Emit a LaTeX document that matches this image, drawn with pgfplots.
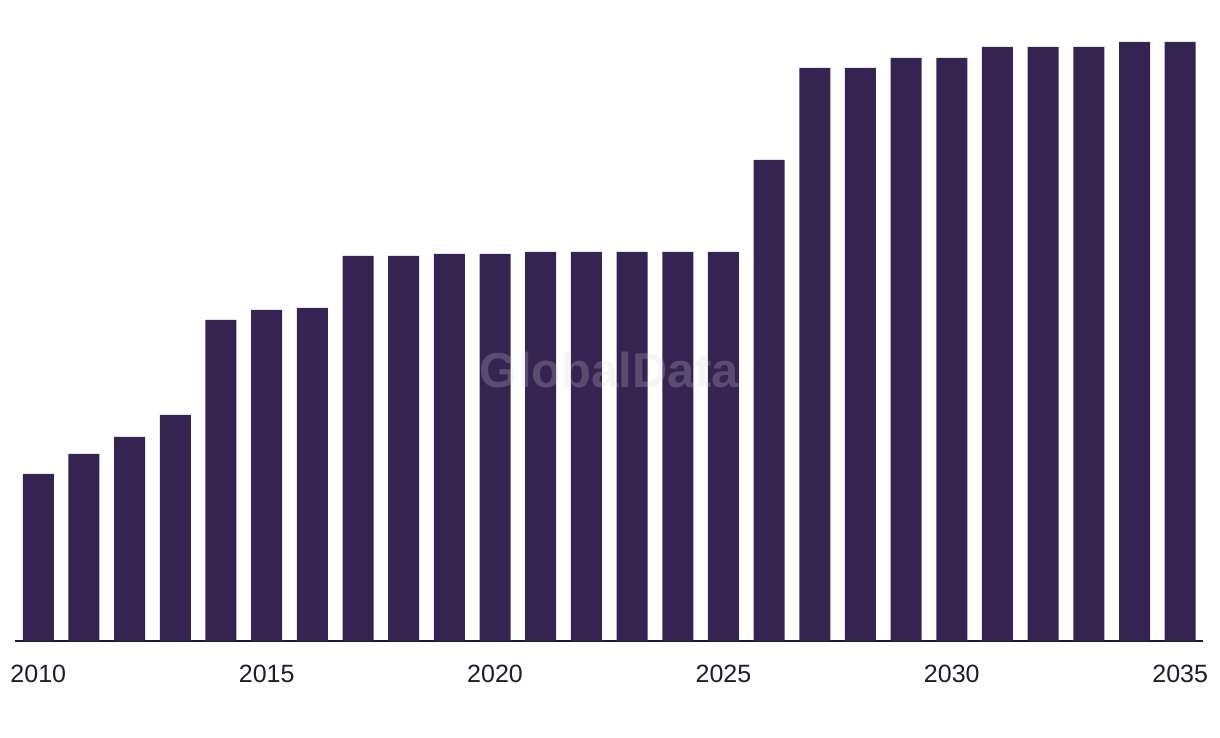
\documentclass[border=0pt]{standalone}
\usepackage{pgfplots}
\pgfplotsset{compat=1.18}
\usepackage{fontspec}
\setmainfont{Liberation Sans}
\definecolor{barc}{HTML}{352452}
\definecolor{txtc}{HTML}{1E1B2E}
\definecolor{wmc}{HTML}{D4D4D4}
\begin{document}
\begin{tikzpicture}
\path[use as bounding box] (-7.5pt,-48.5pt) rectangle (602.5pt,320.5pt);
\begin{axis}[
  at={(0,0)}, anchor=south west,
  scale only axis, width=594pt, height=320.5pt,
  xmin=2009.49, xmax=2035.5, ymin=0, ymax=641,
  axis x line=bottom, axis y line=none,
  axis line style={-, txtc, line width=1pt},
  xtick={2010,2015,2020,2025,2030,2035},
  major tick length=0pt,
  /pgf/number format/assume math mode=true,
  /pgf/number format/1000 sep={},
  xticklabel style={font=\fontsize{12.5}{14}\selectfont, text=txtc, anchor=base, inner sep=0pt, yshift=-20.5pt},
  clip=false,
]
\addplot[ybar, bar width=15.5pt, fill=barc, draw=none] coordinates {
(2010,167) (2011,187) (2012,204) (2013,226) (2014,321) (2015,331) (2016,333)
(2017,385) (2018,385) (2019,387) (2020,387) (2021,389) (2022,389) (2023,389)
(2024,389) (2025,389) (2026,481) (2027,573) (2028,573) (2029,583) (2030,583)
(2031,594) (2032,594) (2033,594) (2034,599) (2035,599)
};
\node[text=wmc, opacity=0.23, font=\bfseries\fontsize{24.5}{28}\selectfont] at (axis cs:2022.5,271) {GlobalData};
\end{axis}
\end{tikzpicture}
\end{document}
